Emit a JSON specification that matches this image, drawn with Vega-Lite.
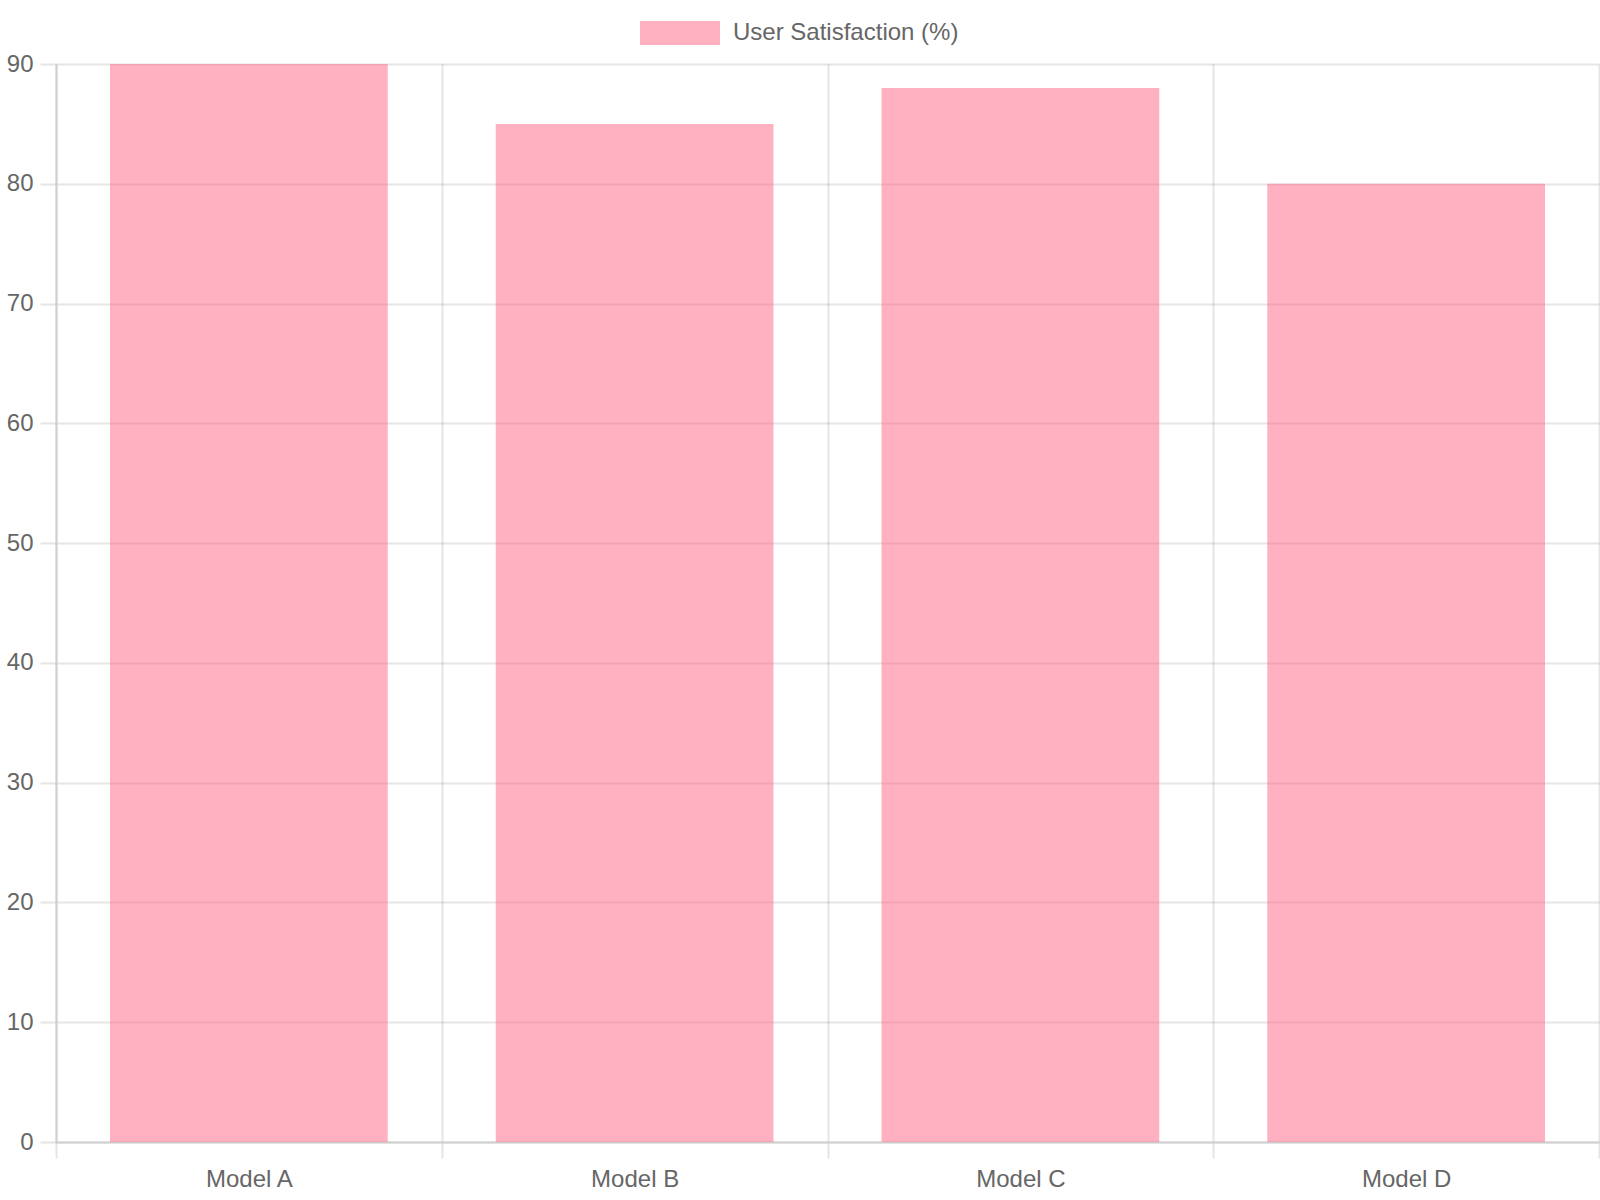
{
  "$schema": "https://vega.github.io/schema/vega-lite/v6.json",
  "width": 1543,
  "height": 1078,
  "autosize": {"type": "none"},
  "padding": {"left": 56, "top": 64, "right": 1, "bottom": 58},
  "background": "white",
  "config": {
    "font": "Liberation Sans",
    "view": {"stroke": null}
  },
  "data": {
    "values": [
      {"model": "Model A", "satisfaction": 90},
      {"model": "Model B", "satisfaction": 85},
      {"model": "Model C", "satisfaction": 88},
      {"model": "Model D", "satisfaction": 80}
    ]
  },
  "mark": {"type": "bar", "width": {"band": 0.72}, "opacity": 0.5},
  "encoding": {
    "x": {
      "field": "model",
      "type": "nominal",
      "sort": null,
      "scale": {"paddingInner": 0, "paddingOuter": 0},
      "axis": {
        "title": null,
        "tickBand": "extent",
        "grid": true,
        "gridColor": "rgba(0,0,0,0.1)",
        "gridWidth": 2,
        "tickColor": "rgba(0,0,0,0.1)",
        "tickWidth": 2,
        "tickSize": 16,
        "domainColor": "#cfcfcf",
        "domainWidth": 2,
        "labelFontSize": 24,
        "labelColor": "#666666",
        "labelPadding": 9,
        "labelAngle": 0
      }
    },
    "y": {
      "field": "satisfaction",
      "type": "quantitative",
      "scale": {"domain": [0, 90], "nice": false},
      "axis": {
        "title": null,
        "values": [0, 10, 20, 30, 40, 50, 60, 70, 80, 90],
        "grid": true,
        "gridColor": "rgba(0,0,0,0.1)",
        "gridWidth": 2,
        "tickColor": "rgba(0,0,0,0.1)",
        "tickWidth": 2,
        "tickSize": 16,
        "domainColor": "#cfcfcf",
        "domainWidth": 2,
        "labelFontSize": 24,
        "labelColor": "#666666",
        "labelPadding": 7
      }
    },
    "color": {
      "datum": "User Satisfaction (%)",
      "scale": {"range": ["#FF6384"]},
      "legend": {
        "title": null,
        "orient": "none",
        "legendX": 584,
        "legendY": -71,
        "direction": "horizontal",
        "symbolType": "M-1,-0.3H1V0.3H-1Z",
        "symbolSize": 6400,
        "symbolStrokeWidth": 0,
        "symbolOpacity": 0.5,
        "labelFontSize": 24,
        "labelColor": "#666666",
        "labelOffset": 13,
        "labelLimit": 0,
        "padding": 0
      }
    }
  }
}
